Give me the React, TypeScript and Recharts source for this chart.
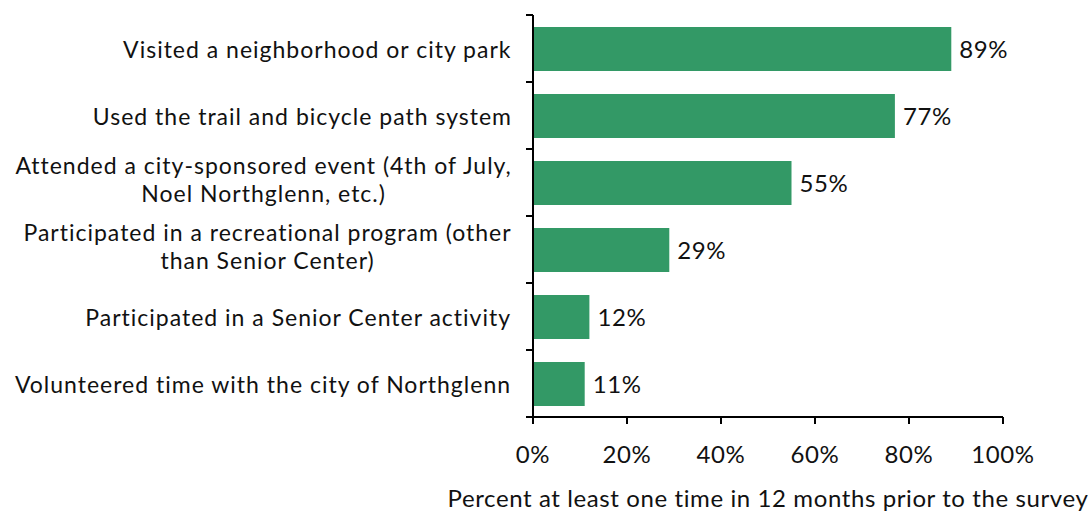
import { BarChart, Bar, XAxis, YAxis, LabelList } from "recharts";

const categories = [
  "Visited a neighborhood or city park",
  "Used the trail and bicycle path system",
  "Attended a city-sponsored event (4th of July, Noel Northglenn, etc.)",
  "Participated in a recreational program (other than Senior Center)",
  "Participated in a Senior Center activity",
  "Volunteered time with the city of Northglenn",
];

const categoryLines: string[][] = [
  ["Visited a neighborhood or city park"],
  ["Used the trail and bicycle path system"],
  ["Attended a city-sponsored event (4th of July,", "Noel Northglenn, etc.)"],
  ["Participated in a recreational program (other", "than Senior Center)"],
  ["Participated in a Senior Center activity"],
  ["Volunteered time with the city of Northglenn"],
];

const percents = [89, 77, 55, 29, 12, 11];

const xTicks = [0, 20, 40, 60, 80, 100];

const axisTitle = "Percent at least one time in 12 months prior to the survey";

const FONT = "Lato, 'Open Sans', sans-serif";
const textStyle = { fontSize: 24, fontFamily: FONT, fill: "#111", letterSpacing: 0.6 };
const catSize = 23;
const catSpacing = 1;
const catStyle = { fontSize: catSize, fontFamily: FONT, fill: "#111", letterSpacing: catSpacing };

const data = categories.map((name, i) => ({ name, value: percents[i] }));

let ctx: CanvasRenderingContext2D | null = null;
function measure(s: string) {
  if (!ctx) ctx = document.createElement("canvas").getContext("2d");
  if (!ctx) return s.length * 11;
  ctx.font = `${catSize}px Lato`;
  return ctx.measureText(s).width + s.length * catSpacing;
}

// multi-line labels are centred on each other, right-aligned as a block
function CategoryTick(props: any) {
  const { x, y, payload, index } = props;
  const idx = categories.indexOf(payload.value);
  const lines = categoryLines[idx] || [payload.value];
  const maxW = Math.max(...lines.map(measure));
  const lineH = 28;
  const shift = lines.length > 1 ? -4 : 0;
  const half = payload.offset || 33.5;
  const axisX = x + 21;
  const cx = x - maxW / 2;
  return (
    <g>
      <text textAnchor="middle" dominantBaseline="central" style={catStyle}>
        {lines.map((ln, i) => (
          <tspan key={i} x={cx} y={y + shift + (i - (lines.length - 1) / 2) * lineH}>
            {ln}
          </tspan>
        ))}
      </text>
      <line x1={axisX - 7} x2={axisX} y1={y - half} y2={y - half} stroke="#000" strokeWidth={2} />
      {index === categories.length - 1 && (
        <line x1={axisX - 7} x2={axisX} y1={y + half} y2={y + half} stroke="#000" strokeWidth={2} />
      )}
    </g>
  );
}

export default function App() {
  return (
    <div style={{ position: "absolute", left: 0, top: 0, background: "#fff" }}>
      <BarChart
        width={1088}
        height={512}
        data={data}
        layout="vertical"
        margin={{ top: 15, right: 85, left: 0, bottom: 0 }}
        barSize={44}
      >
        <XAxis
          type="number"
          domain={[0, 100]}
          ticks={xTicks}
          tickFormatter={(v) => `${v}%`}
          tick={textStyle}
          axisLine={{ stroke: "#000", strokeWidth: 2 }}
          tickLine={{ stroke: "#000", strokeWidth: 2 }}
          tickSize={7}
          tickMargin={22}
          height={95}
          label={{
            value: axisTitle,
            position: "insideBottom",
            offset: 5,
            style: textStyle,
          }}
        />
        <YAxis
          type="category"
          dataKey="name"
          width={533}
          tick={<CategoryTick />}
          tickLine={false}
          tickSize={7}
          tickMargin={14}
          axisLine={{ stroke: "#000", strokeWidth: 2 }}
          interval={0}
        />
        <Bar dataKey="value" fill="#339966" isAnimationActive={false}>
          <LabelList
            dataKey="value"
            position="right"
            offset={8}
            formatter={(v: any) => `${v}%`}
            style={textStyle}
          />
        </Bar>
      </BarChart>
    </div>
  );
}
